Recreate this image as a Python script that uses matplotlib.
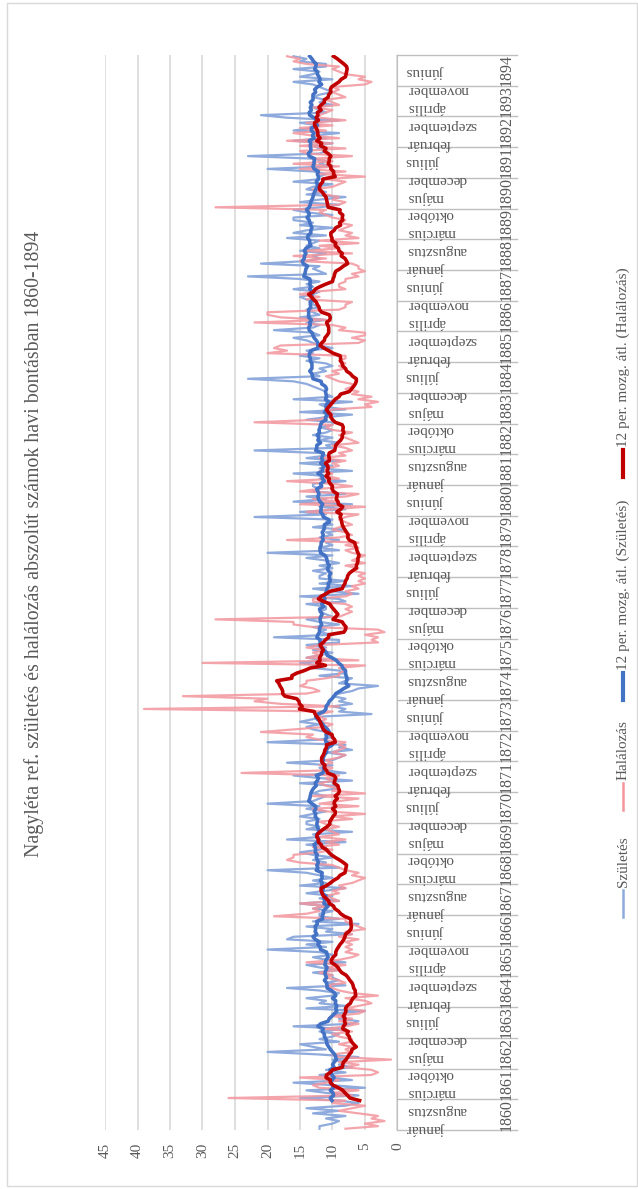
import matplotlib
matplotlib.use("Agg")
import matplotlib.pyplot as plt
import matplotlib.transforms as mtransforms
from matplotlib.lines import Line2D
from matplotlib.patches import Rectangle
import numpy as np
import pandas as pd

# Adatok: havi születések és halálozások 1860 január - 1894 december
years = list(range(1860, 1895))
month_names = ["január", "február", "március", "április", "május", "június",
               "július", "augusztus", "szeptember", "október", "november", "december"]

births = [
    12, 12, 10, 9, 11, 8, 13, 9, 14, 8, 6, 9,
    15, 6, 11, 14, 5, 10, 16, 7, 10, 12, 8, 11,
    7, 9, 8, 10, 6, 12, 20, 11, 13, 15, 9, 12,
    10, 9, 12, 8, 16, 7, 6, 9, 8, 10, 5, 14,
    8, 12, 11, 14, 10, 9, 12, 17, 8, 11, 9, 10,
    10, 13, 9, 12, 14, 8, 11, 13, 10, 12, 20, 11,
    14, 10, 17, 16, 7, 11, 10, 14, 6, 13, 9, 12,
    12, 10, 13, 11, 15, 9, 12, 10, 14, 11, 8, 15,
    11, 13, 10, 12, 14, 20, 9, 12, 11, 13, 10, 13,
    15, 12, 11, 14, 8, 17, 12, 13, 7, 14, 12, 14,
    14, 12, 15, 13, 11, 14, 12, 20, 13, 12, 11, 13,
    12, 9, 10, 15, 7, 12, 16, 8, 11, 12, 10, 17,
    10, 9, 8, 11, 7, 9, 8, 20, 12, 10, 11, 11,
    13, 14, 12, 15, 13, 12, 4, 9, 8, 10, 7, 9,
    8, 10, 9, 7, 6, 3, 9, 8, 7, 12, 8, 9,
    13, 12, 15, 11, 14, 12, 10, 13, 11, 14, 9, 9,
    19, 10, 12, 11, 13, 9, 12, 14, 10, 11, 12, 11,
    11, 14, 8, 9, 15, 6, 10, 13, 7, 12, 8, 12,
    12, 11, 13, 10, 12, 9, 11, 14, 10, 20, 9, 12,
    10, 11, 9, 12, 10, 11, 8, 13, 10, 11, 10, 22,
    11, 15, 8, 12, 7, 16, 11, 14, 8, 13, 12, 13,
    13, 8, 12, 11, 16, 7, 12, 10, 15, 9, 14, 11,
    12, 22, 10, 11, 9, 12, 10, 13, 11, 10, 12, 10,
    10, 14, 11, 7, 15, 8, 11, 12, 7, 16, 10, 11,
    11, 12, 13, 14, 16, 23, 12, 13, 11, 12, 10, 11,
    14, 12, 15, 13, 14, 10, 12, 13, 14, 16, 12, 13,
    19, 13, 12, 14, 11, 15, 12, 13, 14, 12, 13, 13,
    14, 15, 13, 12, 16, 13, 14, 12, 15, 23, 11, 12,
    13, 12, 21, 14, 12, 13, 11, 15, 12, 14, 13, 12,
    17, 11, 16, 14, 10, 15, 13, 16, 16, 10, 14, 16,
    12, 9, 15, 12, 8, 14, 11, 14, 13, 10, 16, 12,
    12, 11, 13, 20, 10, 12, 11, 13, 23, 12, 11, 12,
    13, 10, 16, 11, 13, 9, 16, 13, 12, 15, 9, 17,
    21, 11, 12, 13, 10, 12, 11, 13, 12, 10, 11, 12,
    13, 16, 10, 15, 13, 12, 16, 11, 11, 15, 14, 16,
]

deaths = [
    8, 3, 5, 2, 4, 3, 6, 9, 7, 5, 10, 8,
    26, 7, 10, 6, 12, 13, 11, 9, 15, 4, 3, 4,
    8, 6, 9, 1, 9, 10, 7, 8, 7, 9, 7, 7,
    9, 10, 7, 11, 8, 6, 9, 7, 10, 6, 5, 8,
    6, 4, 5, 8, 3, 7, 9, 10, 11, 8, 9, 11,
    10, 12, 9, 11, 8, 14, 9, 7, 6, 8, 7, 8,
    7, 8, 6, 9, 7, 8, 5, 6, 7, 8, 8, 19,
    14, 12, 13, 11, 15, 9, 10, 11, 9, 10, 8, 9,
    7, 6, 5, 7, 6, 8, 9, 10, 15, 17, 16, 16,
    12, 10, 13, 9, 11, 8, 12, 9, 10, 11, 9, 11,
    12, 7, 10, 5, 11, 13, 6, 12, 9, 6, 13, 5,
    10, 9, 11, 12, 10, 11, 9, 24, 11, 10, 12, 10,
    11, 9, 8, 10, 9, 8, 9, 8, 12, 14, 13, 21,
    16, 11, 10, 12, 11, 12, 12, 10, 39, 9, 18, 22,
    20, 33, 14, 12, 13, 15, 14, 14, 11, 9, 9, 8,
    9, 5, 30, 6, 14, 12, 13, 11, 14, 12, 3, 4,
    3, 5, 2, 3, 13, 16, 16, 28, 9, 8, 7, 8,
    7, 8, 13, 13, 8, 7, 8, 6, 7, 5, 6, 5,
    6, 5, 7, 6, 8, 5, 7, 6, 5, 7, 8, 6,
    8, 6, 17, 9, 7, 8, 10, 9, 7, 8, 9, 8,
    6, 14, 10, 5, 15, 9, 13, 8, 6, 15, 12, 7,
    10, 17, 9, 11, 10, 12, 11, 9, 10, 8, 12, 8,
    9, 7, 8, 10, 6, 7, 8, 9, 7, 10, 11, 10,
    22, 12, 11, 10, 11, 10, 4, 5, 3, 6, 4, 7,
    6, 8, 7, 7, 9, 10, 11, 9, 10, 8, 9, 8,
    9, 8, 8, 20, 17, 19, 18, 6, 5, 7, 5, 5,
    9, 8, 10, 22, 11, 18, 20, 20, 9, 8, 8, 7,
    14, 12, 15, 13, 8, 9, 9, 8, 8, 6, 7, 5,
    6, 6, 7, 15, 11, 16, 7, 14, 9, 12, 6, 12,
    6, 8, 7, 9, 8, 7, 9, 8, 10, 11, 12, 11,
    28, 9, 8, 10, 9, 11, 12, 13, 10, 9, 8, 11,
    5, 12, 8, 15, 9, 16, 10, 13, 7, 14, 15, 8,
    15, 10, 17, 9, 13, 16, 11, 15, 10, 14, 8, 12,
    12, 11, 10, 13, 9, 10, 11, 8, 9, 10, 9, 10,
    5, 4, 6, 5, 8, 9, 10, 9, 14, 16, 15, 17,
]

value_ticks = list(range(0, 50, 5))
title = "Nagyléta ref. születés és halálozás abszolút számok havi bontásban 1860-1894"
legend_labels = ["Születés", "Halálozás",
                 "12 per. mozg. átl. (Születés)", "12 per. mozg. átl. (Halálozás)"]

plt.rcParams['font.family'] = ['Liberation Serif', 'DejaVu Serif']
TXT = '#595959'

# az eredeti (fekvő) diagram 90 fokkal elforgatva
W, H = 638, 1189
fig = plt.figure(figsize=(W / 100, H / 100), dpi=100)


def fx(px):
    return px / W


def fy(py):
    return 1 - py / H


ax = fig.add_axes([fx(105), fy(1130), (397.5 - 105) / W, (1130 - 55) / H])

n = len(births)
pos = np.arange(n) + 0.5
b_avg = pd.Series(births, dtype=float).rolling(12).mean()
d_avg = pd.Series(deaths, dtype=float).rolling(12).mean()

ax.plot(births, pos, color='#8FAADC', lw=1.6, zorder=2)
ax.plot(deaths, pos, color='#F2959D', lw=1.6, alpha=0.85, zorder=3)
ax.plot(b_avg, pos, color='#4472C4', lw=2.6, zorder=4)
ax.plot(d_avg, pos, color='#C00000', lw=2.6, zorder=5)

ax.set_xlim(45, 0)
ax.set_ylim(0, n)
ax.set_xticks(value_ticks)
ax.set_xticklabels([str(v) for v in value_ticks], rotation=90)
ax.tick_params(axis='x', length=0, pad=9, labelsize=11, labelcolor=TXT)
ax.set_yticks([])
ax.grid(axis='x', color='#d9d9d9', lw=1.2)
ax.set_axisbelow(True)
for s in ['top', 'bottom', 'left']:
    ax.spines[s].set_visible(False)
ax.spines['right'].set_color('#bfbfbf')

# kategória tengely: évek és hónapok
trans = mtransforms.blended_transform_factory(ax.transAxes, ax.transData)
x_end = (517 - 105) / (397.5 - 105)
for k in range(len(years) + 1):
    ax.plot([1, x_end], [12 * k, 12 * k], transform=trans, color='#bfbfbf',
            lw=1, clip_on=False)
for m in range(0, n, 7):
    ax.text((407 - 105) / (397.5 - 105), m + 0.5, month_names[m % 12],
            transform=trans, rotation=180, ha='left', va='center',
            fontsize=11, color=TXT, clip_on=False)
for k, yr in enumerate(years):
    ax.text((507 - 105) / (397.5 - 105), 12 * k + 6, str(yr), transform=trans,
            rotation=90, ha='center', va='center', fontsize=11.5, color=TXT,
            clip_on=False)

fig.text(fx(34), fy(543.5), title, rotation=90, ha='center', va='center',
         fontsize=14.3, color=TXT)

# jelmagyarázat
leg_styles = [('#8FAADC', 1.8), ('#F2959D', 1.8), ('#4472C4', 3), ('#C00000', 3)]
leg_start = [917, 810, 700, 477]
for (col, lw), y0, lab in zip(leg_styles, leg_start, legend_labels):
    fig.add_artist(Line2D([fx(623), fx(623)], [fy(y0), fy(y0 - 27)],
                          transform=fig.transFigure, color=col, lw=lw))
    fig.text(fx(623), fy(y0 - 30), lab, rotation=90, ha='center', va='bottom',
             fontsize=11, color=TXT)

fig.add_artist(Rectangle((fx(7), fy(1186)), (637 - 7) / W, (1186 - 3) / H,
                         transform=fig.transFigure, fill=False,
                         ec='#d9d9d9', lw=1))

fig.savefig('out.png', dpi=100)
